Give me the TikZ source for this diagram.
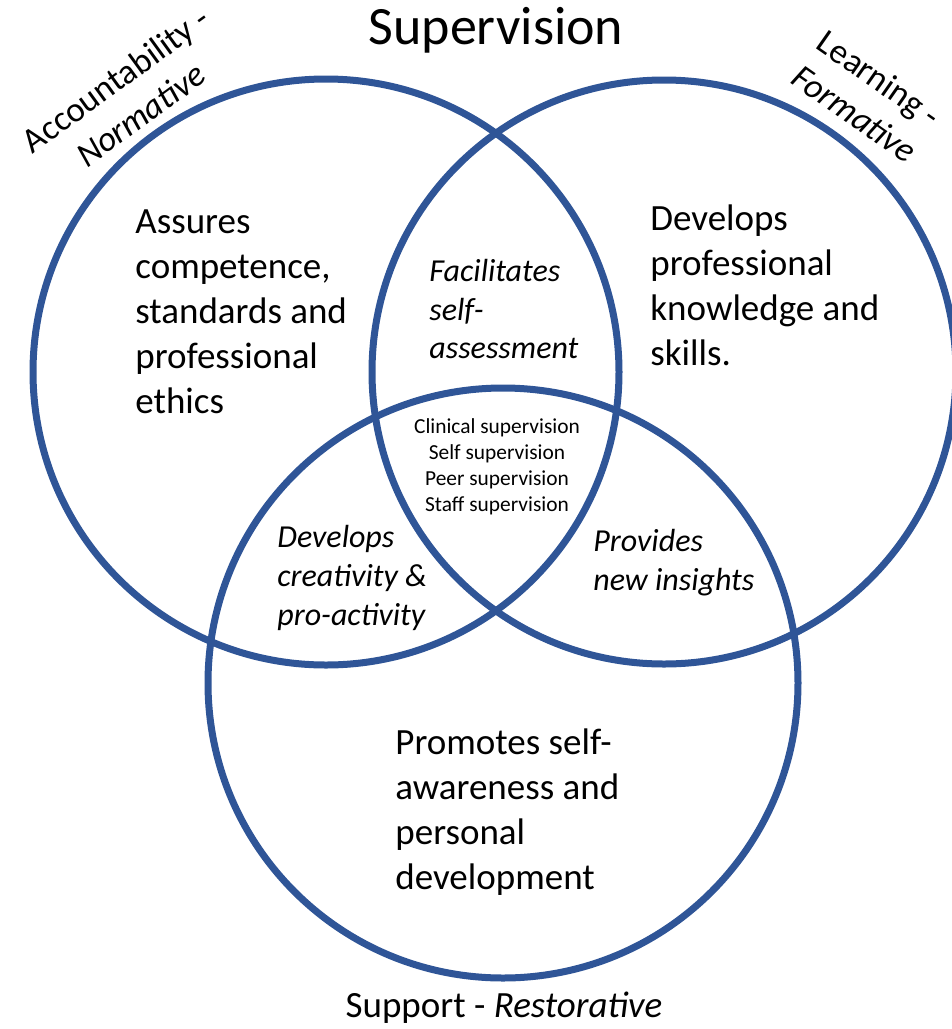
\documentclass[tikz,border=0pt]{standalone}
\usepackage{fontspec}
\setmainfont{Carlito}
\definecolor{supblue}{RGB}{47,85,151}
\begin{document}
\begin{tikzpicture}[x=0.5pt, y=-0.5pt,
	ring/.style={draw=supblue, line width=3.5pt},
	big/.style={align=left, inner sep=0, anchor=west, font=\fontsize{18.5}{22.5}\selectfont},
	mid/.style={align=left, inner sep=0, anchor=west, font=\fontsize{16}{19.5}\selectfont\itshape},
	small/.style={align=center, inner sep=0, font=\fontsize{10.7}{13}\selectfont},
	corner/.style={align=center, inner sep=0, font=\fontsize{17.5}{21.5}\selectfont}]
	\useasboundingbox (0,0) rectangle (952,1029);
	%circles
	\draw[ring] (326,372) circle[radius=146.5pt];
	\draw[ring] (664,372) circle[radius=146pt];
	\draw[ring] (503,683) circle[radius=147.5pt];
	%titles
	\node[font=\fontsize{27}{32}\selectfont] (title) at (496,30) {Supervision};
	\node[corner, rotate=36] (norm) at (128,97) {Accountability -\\\textit{Normative}};
	\node[corner, rotate=-35] (form) at (867,96) {Learning -\\\textit{Formative}};
	\node[font=\fontsize{18.5}{22.5}\selectfont] (restore) at (504,1008) {Support - \textit{Restorative}};
	%regions
	\node[big] (assure) at (135,312) {Assures\\competence,\\standards and\\professional\\ethics};
	\node[big] (know) at (650,285) {Develops\\professional\\knowledge and\\skills.};
	\node[big] (promo) at (395,812) {Promotes self-\\awareness and\\personal\\development};
	%overlaps
	\node[mid] (self) at (429,309) {Facilitates\\self-\\assessment};
	\node[mid] (create) at (277,578) {Develops\\creativity \&\\pro-activity};
	\node[mid] (insight) at (593,563) {Provides\\new insights};
	\node[small] (kinds) at (497,467) {Clinical supervision\\Self supervision\\Peer supervision\\Staff supervision};
\end{tikzpicture}
\end{document}
